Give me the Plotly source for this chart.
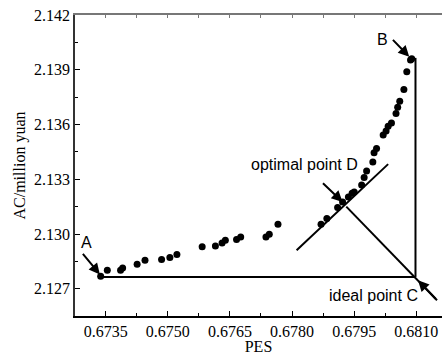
import plotly.graph_objects as go

# Pareto front points (PES, AC in million yuan)
pes = [0.67338, 0.67354, 0.67386, 0.67391, 0.67426, 0.67445, 0.67485, 0.67505, 0.67522,
       0.67583, 0.67615, 0.67631, 0.67639, 0.67666, 0.67676, 0.67737, 0.67745, 0.67766,
       0.67870, 0.67884, 0.67910, 0.67922, 0.67936, 0.67945, 0.67950, 0.67968, 0.67974,
       0.67980, 0.67995, 0.67998, 0.68004, 0.68020, 0.68027, 0.68032, 0.68040, 0.68051,
       0.68055, 0.68060, 0.68070, 0.68077, 0.68086, 0.68089]
ac = [2.12769, 2.12801, 2.12801, 2.12814, 2.12834, 2.12856, 2.12860, 2.12871, 2.12888,
      2.12931, 2.12935, 2.12951, 2.12966, 2.12970, 2.12984, 2.12984, 2.12999, 2.13054,
      2.13054, 2.13085, 2.13145, 2.13176, 2.13203, 2.13224, 2.13231, 2.13269, 2.13310,
      2.13346, 2.13395, 2.13445, 2.13469, 2.13542, 2.13564, 2.13591, 2.13609, 2.13661,
      2.13694, 2.13728, 2.13792, 2.13889, 2.13953, 2.13961]

# Reference points / lines
ideal_C = (0.68098, 2.12765)
point_A = (0.67338, 2.12765)
point_B_top = 2.13965
optimal_D = (0.67922, 2.13176)
cd_line_x = [0.67931, 0.68150]
cd_line_y = [2.13150, 2.12637]
tangent_x = [0.67811, 0.68032]
tangent_y = [2.12911, 2.13383]

x_ticks = [0.6735, 0.6750, 0.6765, 0.6780, 0.6795, 0.6810]
x_tick_text = ["0.6735", "0.6750", "0.6765", "0.6780", "0.6795", "0.6810"]
y_ticks = [2.127, 2.130, 2.133, 2.136, 2.139, 2.142]
y_tick_text = ["2.127", "2.130", "2.133", "2.136", "2.139", "2.142"]
top_ticks = [0.67275 + 0.00075 * i for i in range(13)]

x_range = [0.67276, 0.68162]
y_range = [2.12551, 2.142]

line_style = dict(color="black", width=2)

fig = go.Figure()
fig.add_trace(go.Scatter(x=[point_A[0], ideal_C[0]], y=[point_A[1], ideal_C[1]],
                         mode="lines", line=line_style, showlegend=False))
fig.add_trace(go.Scatter(x=[ideal_C[0], ideal_C[0]], y=[ideal_C[1], point_B_top],
                         mode="lines", line=line_style, showlegend=False))
fig.add_trace(go.Scatter(x=cd_line_x, y=cd_line_y, mode="lines", line=line_style, showlegend=False))
fig.add_trace(go.Scatter(x=tangent_x, y=tangent_y, mode="lines", line=line_style, showlegend=False))
fig.add_trace(go.Scatter(x=pes, y=ac, mode="markers",
                         marker=dict(color="black", size=7), showlegend=False))
# dummy trace for top axis
fig.add_trace(go.Scatter(x=[x_range[0]], y=[y_range[0]], xaxis="x2", mode="markers",
                         marker=dict(opacity=0), showlegend=False, hoverinfo="skip"))

label_font = dict(family="Liberation Sans, Arial", size=16, color="black")
arrow_common = dict(axref="x", ayref="y", showarrow=True, arrowhead=2, arrowsize=1.1,
                    arrowwidth=2, arrowcolor="black", text="", standoff=0)
annotations = [
    dict(x=0.67336, y=2.12779, ax=0.67292, ay=2.12900, **arrow_common),
    dict(x=0.68083, y=2.13971, ax=0.68040, ay=2.14072, **arrow_common),
    dict(x=optimal_D[0], y=optimal_D[1], ax=0.67871, ay=2.13286, **arrow_common),
    dict(x=0.68104, y=2.12747, ax=0.68150, ay=2.12637, **arrow_common),
    dict(x=0.67304, y=2.12952, text="A", showarrow=False, font=label_font),
    dict(x=0.68019, y=2.14067, text="B", showarrow=False, font=label_font),
    dict(x=0.67964, y=2.13383, text="optimal point D", showarrow=False, xanchor="right",
         font=label_font),
    dict(x=0.68109, y=2.12664, text="ideal point C", showarrow=False, xanchor="right",
         font=label_font),
]

tick_font = dict(family="Liberation Serif, Times New Roman", size=16, color="black")

fig.update_layout(
    width=442, height=355,
    margin=dict(l=75, r=0, t=15, b=39),
    plot_bgcolor="white", paper_bgcolor="white",
    annotations=annotations,
    xaxis=dict(range=x_range, tickvals=x_ticks, ticktext=x_tick_text, ticks="inside",
               ticklen=5, tickwidth=1, tickcolor="black", showline=True, linecolor="black",
               linewidth=1.5, showgrid=False, zeroline=False, tickfont=tick_font,
               minor=dict(tickvals=[0.67425, 0.67575, 0.67725, 0.67875, 0.68025], ticks="inside",
                          ticklen=3, tickcolor="black"),
               title=dict(text="PES", font=tick_font, standoff=2)),
    xaxis2=dict(range=x_range, overlaying="x", side="top", tickvals=top_ticks, ticks="inside",
                ticklen=3, tickcolor="#777", showticklabels=False, showline=True,
                linecolor="#777", linewidth=1.5, showgrid=False, zeroline=False),
    yaxis=dict(range=y_range, tickvals=y_ticks, ticktext=y_tick_text, ticks="inside",
               ticklen=5, tickwidth=1, tickcolor="black", showline=True, linecolor="#333",
               linewidth=1.5, showgrid=False, zeroline=False, tickfont=tick_font,
               minor=dict(tickvals=[2.1285, 2.1315, 2.1345, 2.1375, 2.1405], ticks="inside",
                          ticklen=3, tickcolor="black"),
               title=dict(text="AC/million yuan", font=tick_font, standoff=4)),
)

fig.write_html("out.html")
